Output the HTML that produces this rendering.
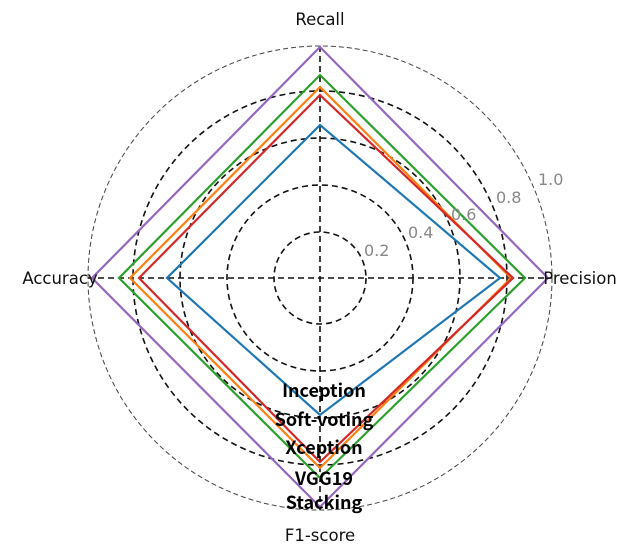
<!DOCTYPE html>
<html><head><style>html,body{margin:0;padding:0;background:#fff}</style></head><body>
<svg width="623" height="552" viewBox="0 0 623 552" xmlns="http://www.w3.org/2000/svg" font-family="'DejaVu Sans',sans-serif">
<circle cx="320" cy="278" r="232" fill="none" stroke="#444" stroke-width="1" stroke-dasharray="5,3"/>
<g fill="none" stroke="#111" stroke-width="1.6" stroke-dasharray="6,4">
<circle cx="320" cy="278" r="46"/>
<circle cx="320" cy="278" r="93"/>
<circle cx="320" cy="278" r="140"/>
<circle cx="320" cy="278" r="187"/>
<line x1="320" y1="46" x2="320" y2="510"/>
<line x1="88" y1="278" x2="552" y2="278"/>
</g>
<g fill="none" stroke-width="2.2" stroke-linejoin="miter">
<polygon stroke="#1f77b4" points="320,125 500,278 320,415 167,278"/>
<polygon stroke="#ff7f0e" points="320,87 511,278 320,468 130,278"/>
<polygon stroke="#2ca02c" points="320,75 525,278 320,478 119,278"/>
<polygon stroke="#d62728" points="320,95 513,278 320,462 139,278"/>
<polygon stroke="#9467bd" points="320,47 548,278 320,507 92,278"/>
</g>
<g fill="#888" font-size="16">
<text x="364" y="256">0.2</text>
<text x="408" y="238">0.4</text>
<text x="451" y="220">0.6</text>
<text x="496" y="203">0.8</text>
<text x="538" y="185">1.0</text>
</g>
<g fill="#111" font-size="16.5" text-anchor="middle">
<text x="320" y="25">Recall</text>
<text x="580" y="284">Precision</text>
<text x="60" y="284">Accuracy</text>
<text x="320" y="541">F1-score</text>
</g>
<g fill="#000" font-size="18" font-weight="bold" text-anchor="middle" font-family="'Noto Sans CJK KR','DejaVu Sans',sans-serif">
<text x="324" y="397">Inception</text>
<text x="324" y="426">Soft-voting</text>
<text x="324" y="454">Xception</text>
<text x="324" y="485">VGG19</text>
<text x="324" y="509">Stacking</text>
</g>
</svg>
</body></html>
